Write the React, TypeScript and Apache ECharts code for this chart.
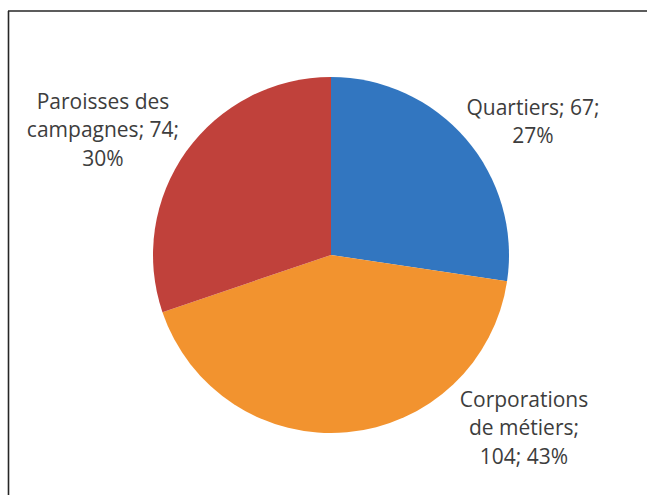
import React, { useEffect, useRef } from "react";
import * as echarts from "echarts";

const categories = ["Quartiers", "Corporations de métiers", "Paroisses des campagnes"];
const values = [67, 104, 74];
const colors = ["#3276C0", "#F2932F", "#C0413B"];
// label text broken as in the picture
const labelLines = [
  (v: number, p: number) => `Quartiers; ${v};\n${p}%`,
  (v: number, p: number) => `Corporations\nde métiers;\n${v}; ${p}%`,
  (v: number, p: number) => `Paroisses des\ncampagnes; ${v};\n${p}%`,
];
const labelPos = [
  [533, 121],
  [524, 427],
  [103, 129],
];

export default function App() {
  const ref = useRef<HTMLDivElement>(null);
  useEffect(() => {
    if (!ref.current) return;
    const chart = echarts.init(ref.current, undefined, { renderer: "svg" });
    chart.setOption({
      animation: false,
      backgroundColor: "#ffffff",
      graphic: [
        { type: "line", shape: { x1: 8, y1: 11, x2: 647, y2: 11 }, style: { stroke: "#262626", lineWidth: 1.6 } },
        { type: "line", shape: { x1: 8.5, y1: 11, x2: 8.5, y2: 495 }, style: { stroke: "#262626", lineWidth: 1.6 } },
      ],
      series: [
        {
          type: "pie",
          center: [331, 255],
          radius: [0, 178],
          startAngle: 90,
          clockwise: true,
          percentPrecision: 0,
          data: categories.map((c, i) => ({ name: c, value: values[i], itemStyle: { color: colors[i] } })),
          label: {
            show: true,
            position: "outside",
            overflow: "none",
            edgeDistance: 0,
            formatter: (p: any) => labelLines[p.dataIndex](p.value, p.percent),
            fontFamily: "Open Sans",
            fontSize: 21,
            lineHeight: 28.5,
            color: "#3d3d3d",
            align: "center",
          },
          labelLine: { show: false },
          labelLayout: (p: any) => ({
            x: labelPos[p.dataIndex][0],
            y: labelPos[p.dataIndex][1],
            align: "center",
            verticalAlign: "middle",
          }),
          emphasis: { disabled: true },
        },
      ],
    });
    return () => chart.dispose();
  }, []);
  return (
    <div
      ref={ref}
      style={{ position: "fixed", left: 0, top: 0, width: 647, height: 495 }}
    />
  );
}
